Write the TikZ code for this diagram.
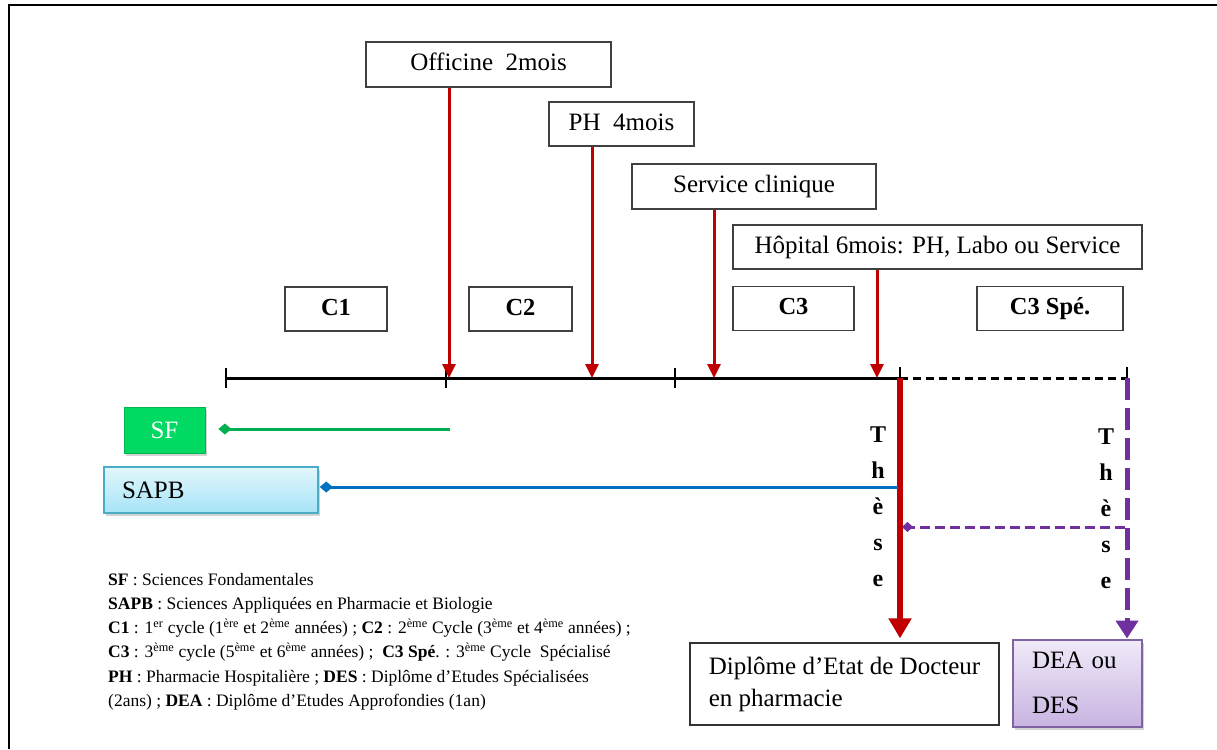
\documentclass[tikz,border=0pt]{standalone}
\usepackage{fontspec}
\setmainfont{Liberation Serif}
\usetikzlibrary{arrows.meta,shadows}
\definecolor{dred}{RGB}{192,0,0}
\definecolor{gfill}{RGB}{0,218,98}
\definecolor{gborder}{RGB}{0,180,80}
\definecolor{gline}{RGB}{0,176,80}
\definecolor{bline}{RGB}{0,112,192}
\definecolor{purp}{RGB}{112,48,160}
\definecolor{btop}{RGB}{227,247,253}
\definecolor{bbot}{RGB}{166,227,247}
\definecolor{bborder}{RGB}{75,172,198}
\definecolor{ptop}{RGB}{240,234,248}
\definecolor{pbot}{RGB}{200,180,226}
\definecolor{pborder}{RGB}{128,100,162}
\begin{document}
\begin{tikzpicture}[x=1pt,y=-1pt,
  box/.style={draw=black!75, line width=1.3pt, fill=white, inner sep=0pt,
    text height=17pt, text depth=5pt, font=\fontsize{25}{30}\selectfont},
  cbox/.style={box, font=\fontsize{24.5}{29}\selectfont\bfseries},
  redarr/.style={draw=dred, line width=3pt, -{Triangle[width=13pt,length=14pt]}},
  tick/.style={line width=1.6pt},
  these/.style={inner sep=0pt, font=\fontsize{24}{28}\selectfont\bfseries},
  legend/.style={inner sep=0pt, anchor=base west, font=\fontsize{17.5}{21}\selectfont},
  shad/.style={drop shadow={opacity=0.35, shadow xshift=2pt, shadow yshift=-3pt}}]
\useasboundingbox (0,0) rectangle (1217,749);
% frame
\draw[line width=2pt] (9,749) -- (9,5) -- (1217,5);

% top boxes
\node[box, minimum width=245pt, minimum height=45pt] (off) at (488.5,64.5) {Officine\ \ 2mois};
\node[box, minimum width=145pt, minimum height=44pt] (ph) at (621.5,124) {PH\ \ 4mois};
\node[box, minimum width=244pt, minimum height=45pt] (sc) at (754,186.5) {Service clinique};
\node[box, minimum width=409pt, minimum height=44pt] (hop) at (937.5,247) {Hôpital 6mois: PH, Labo ou Service};

% cycle boxes
\node[cbox, minimum width=102pt, minimum height=44pt] (c1) at (336,309) {C1};
\node[cbox, minimum width=103pt, minimum height=44pt] (c2) at (520.5,309) {C2};
\node[cbox, minimum width=121pt, minimum height=44pt] (c3) at (793.5,308.5) {C3};
\node[cbox, minimum width=146pt, minimum height=44pt] (c3s) at (1050,308.5) {C3 Spé.};

% timeline
\coordinate (tA) at (226,378);
\coordinate (tB) at (446,378);
\coordinate (tC) at (675,378);
\coordinate (tD) at (900,378);
\coordinate (tE) at (1127,378);
\draw[line width=3pt] (tA) -- (tD);
\draw[line width=3pt, dash pattern=on 8pt off 5pt] (tD) -- (tE);
\draw[tick] ([yshift=10pt]tA) -- ([yshift=-10pt]tA);
\draw[tick] ([yshift=10pt]tB) -- ([yshift=-10pt]tB);
\draw[tick] ([yshift=10pt]tC) -- ([yshift=-10pt]tC);
\draw[tick] ([yshift=11pt]tD) -- (tD);
\draw[tick] ([yshift=11pt]tE) -- (tE);

% red arrows to the timeline
\coordinate (a1) at (449,378);
\coordinate (a2) at (592,378);
\coordinate (a3) at (714,378);
\coordinate (a4) at (877,378);
\draw[redarr] (off.south -| a1) -- (a1);
\draw[redarr] (ph.south -| a2) -- (a2);
\draw[redarr] (sc.south -| a3) -- (a3);
\draw[redarr] (hop.south -| a4) -- (a4);

% bottom boxes
\node[draw=black!80, line width=1.3pt, fill=white, minimum width=309pt, minimum height=82pt,
  align=left, inner xsep=0pt, inner ysep=0pt,
  font=\fontsize{25}{32}\selectfont] (dip) at (844.5,684)
  {Diplôme d’Etat de Docteur\\en pharmacie};
\node[draw=pborder, line width=2pt, top color=ptop, bottom color=pbot, shad,
  minimum width=129pt, minimum height=87pt, align=left, text width=91pt, inner xsep=19pt,
  inner ysep=0pt, font=\fontsize{25}{45}\selectfont] (dea) at (1077.5,683)
  {DEA ou\\DES};

% thesis paths
\draw[dred, line width=6pt, -{Triangle[width=22pt,length=20pt]}, shorten >=4pt] (tD) -- (dip.north -| tD);
\draw[purp, line width=5pt, dash pattern=on 22pt off 8pt, -{Triangle[width=22pt,length=18pt]}] (tE) -- (dea.north -| tE);
\coordinate (pv) at (1125,527);
\coordinate (pr) at (902,527);
\draw[purp, line width=3pt, dash pattern=on 10pt off 5pt, -{Diamond[width=10pt,length=11pt]}] (pv) -- (pr);

\foreach \l [count=\i] in {T,h,è,s,e} {
  \node[these, anchor=base] (tl\i) at (878,406+36*\i) {\l};
  \node[these, anchor=base] (tr\i) at (1106,408+36*\i) {\l};
}

% SF and SAPB
\node[fill=gfill, draw=gborder, line width=0.8pt, shad, minimum width=81pt, minimum height=46pt,
  inner sep=0pt, text=white, font=\fontsize{25}{29}\selectfont] (sf) at (164.5,430) {SF};
\node[draw=bborder, line width=1.5pt, top color=btop, bottom color=bbot, shad,
  minimum width=214pt, minimum height=46pt, align=left, text width=178pt, inner xsep=18pt,
  inner ysep=0pt, font=\fontsize{25}{29}\selectfont] (sapb) at (211,490) {SAPB};
\coordinate (sfs) at (450,429);
\coordinate (sapbs) at (898,487);
\draw[gline, line width=3pt, -{Diamond[width=11pt,length=13pt]}] (sfs) -- ([xshift=13pt]sf.east |- sfs);
\draw[bline, line width=3pt, -{Diamond[width=11pt,length=13pt]}] (sapbs) -- ([xshift=1pt]sapb.east |- sapbs);

% legend
\node[legend] (l1) at (108,585) {\textbf{SF} : Sciences Fondamentales};
\node[legend] (l2) at (108,609.3) {\textbf{SAPB} : Sciences Appliquées en Pharmacie et Biologie};
\node[legend] (l3) at (108,633.6) {\textbf{C1} : 1\textsuperscript{er} cycle (1\textsuperscript{ère} et 2\textsuperscript{ème} années) ; \textbf{C2} : 2\textsuperscript{ème} Cycle (3\textsuperscript{ème} et 4\textsuperscript{ème} années) ;};
\node[legend] (l4) at (108,657.9) {\textbf{C3} : 3\textsuperscript{ème} cycle (5\textsuperscript{ème} et 6\textsuperscript{ème} années) ;\ \ \textbf{C3 Spé}. : 3\textsuperscript{ème} Cycle\ \ Spécialisé};
\node[legend] (l5) at (108,682.2) {\textbf{PH} : Pharmacie Hospitalière ; \textbf{DES} : Diplôme d’Etudes Spécialisées};
\node[legend] (l6) at (108,706.5) {(2ans) ; \textbf{DEA} : Diplôme d’Etudes Approfondies (1an)};
\end{tikzpicture}
\end{document}
